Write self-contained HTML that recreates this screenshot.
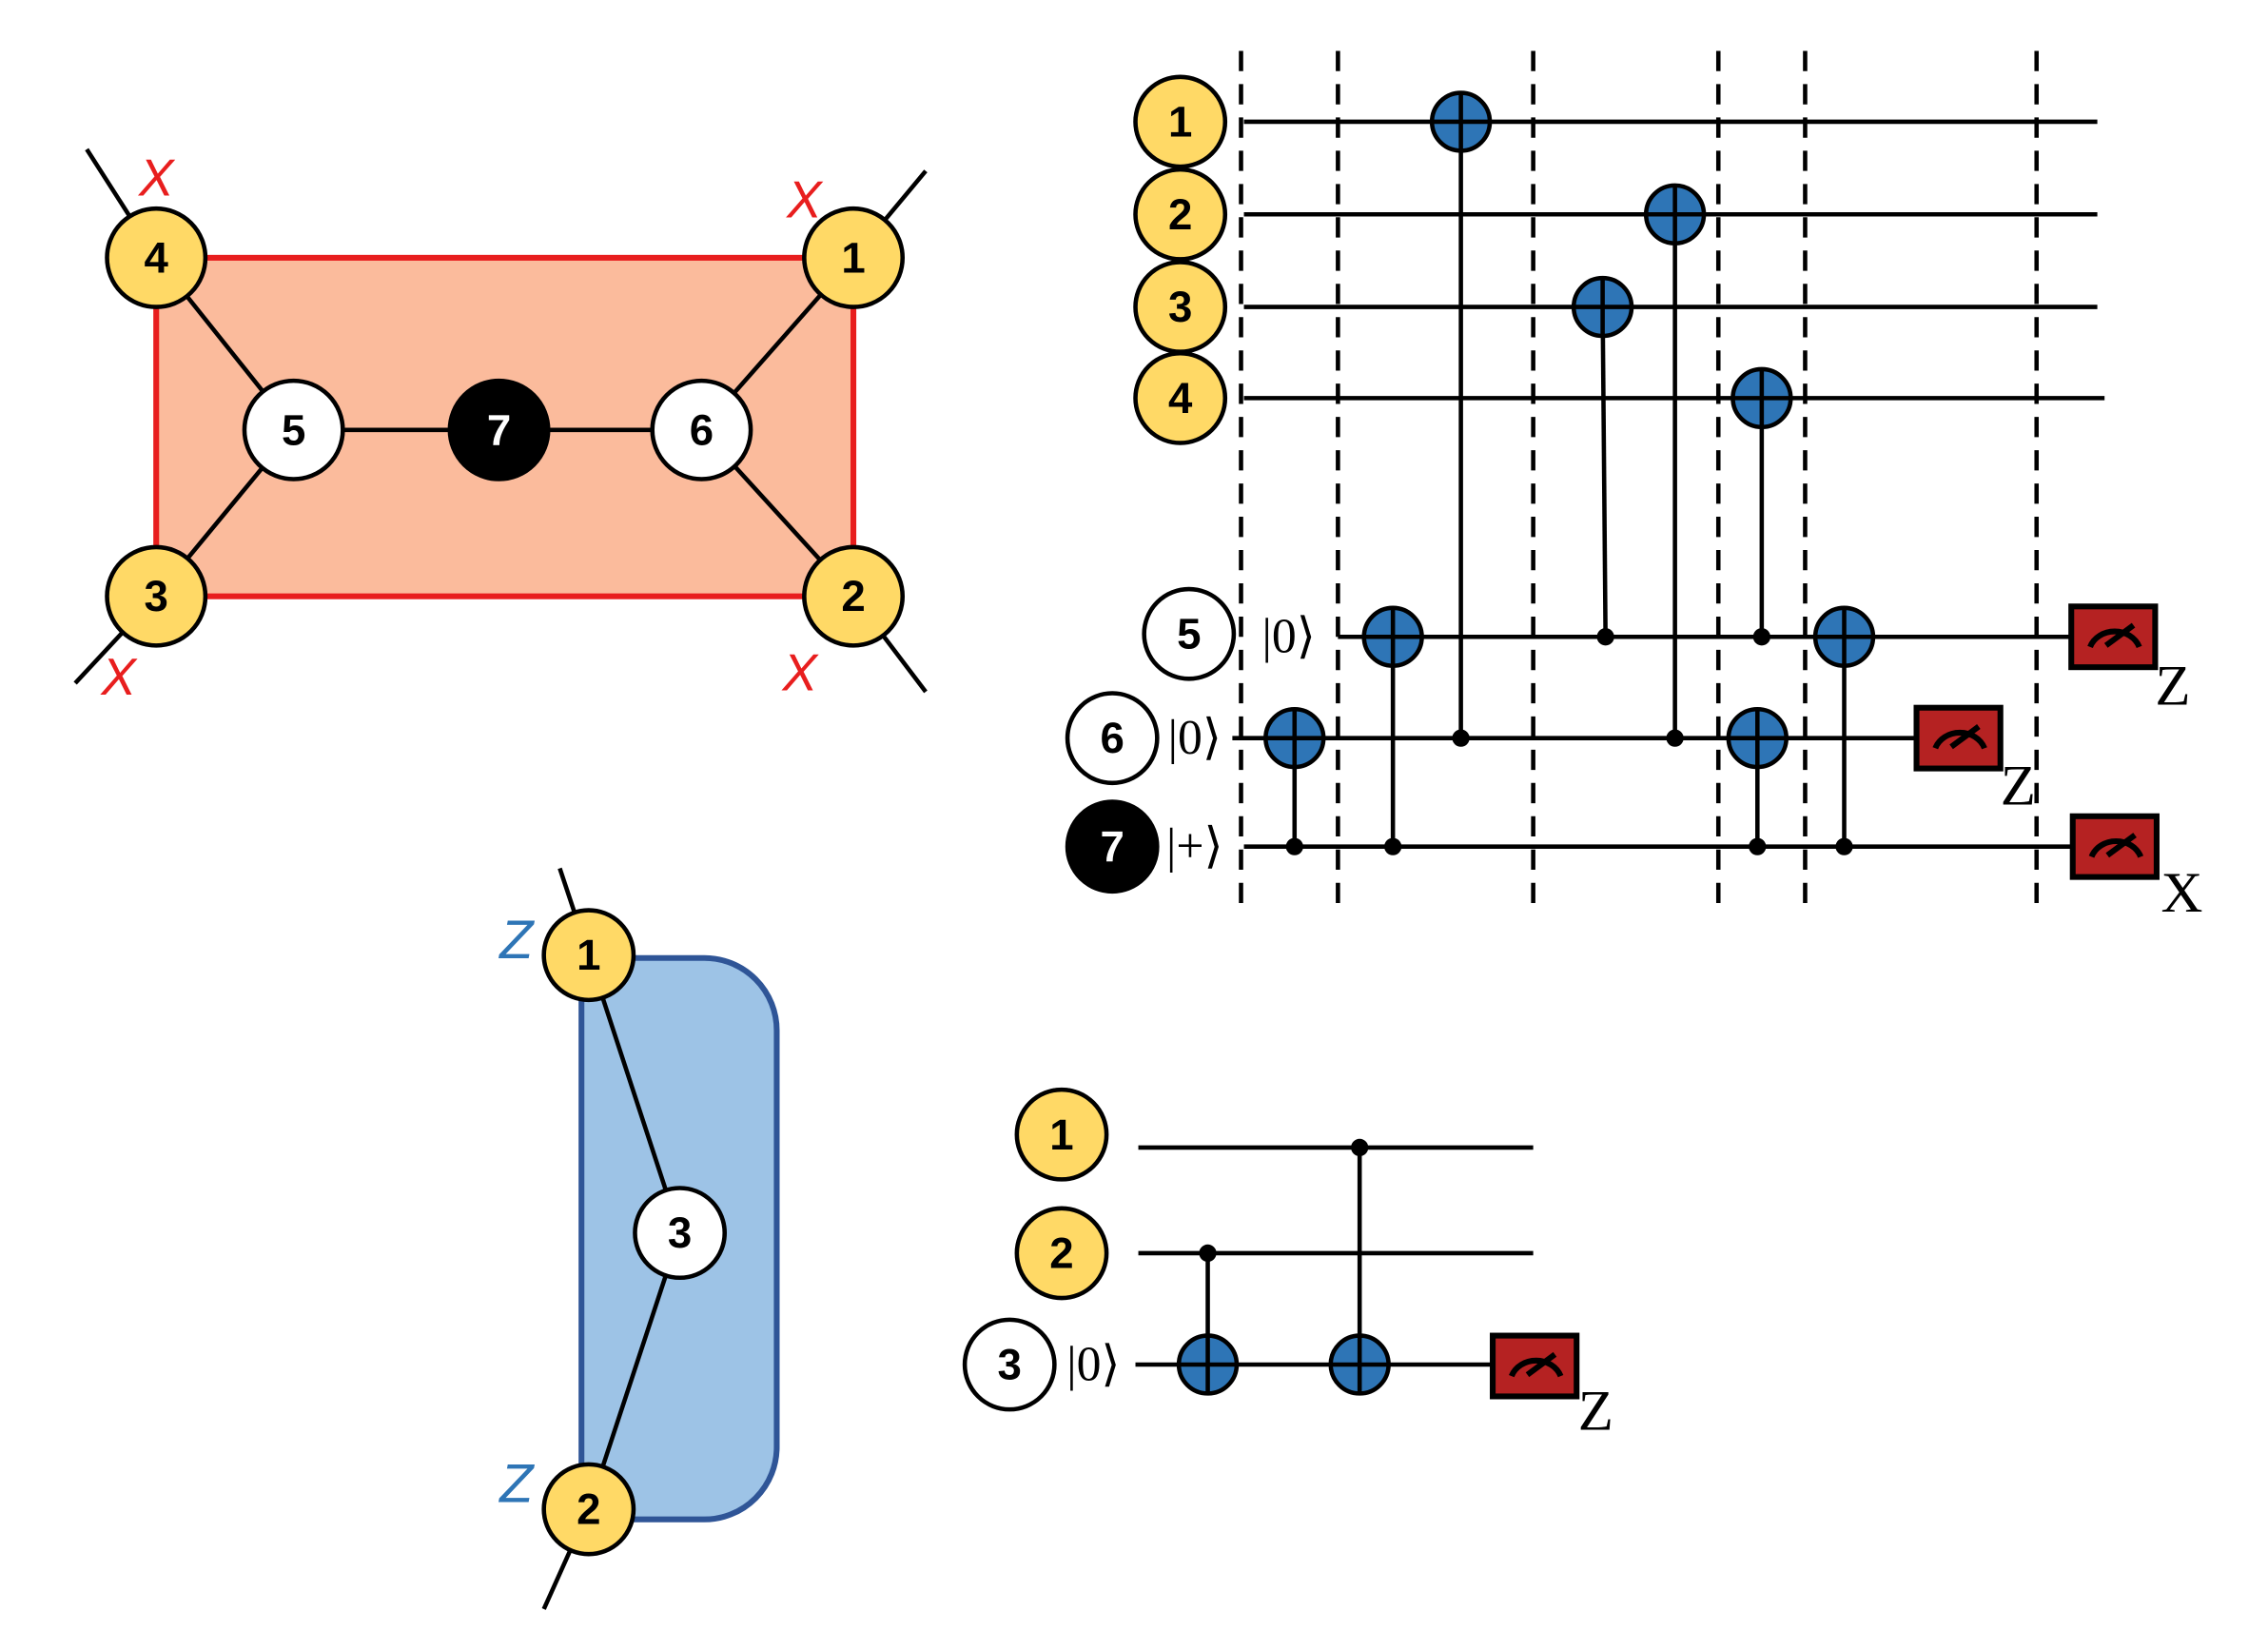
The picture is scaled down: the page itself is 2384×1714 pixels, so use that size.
<!DOCTYPE html>
<html><head><style>body{margin:0;background:#fff}svg{display:block}</style></head><body>
<svg width="2384" height="1714" viewBox="0 0 1568 1127" xmlns="http://www.w3.org/2000/svg">
<defs>
<g id="cn"><circle r="20" fill="#2E75B6" stroke="#000" stroke-width="3"/><line x1="-20" y1="0" x2="20" y2="0" stroke="#000" stroke-width="3"/><line x1="0" y1="-20" x2="0" y2="20" stroke="#000" stroke-width="3"/></g>
<g id="ms"><rect x="0" y="0" width="58" height="42" fill="#B52222" stroke="#000" stroke-width="4"/><path d="M13,28 A18,16 0 0 1 47,28" fill="none" stroke="#000" stroke-width="4"/><line x1="24" y1="27" x2="43" y2="13" stroke="#000" stroke-width="4"/></g>
</defs>
<style>
.n{font:bold 30px "Liberation Sans",sans-serif;text-anchor:middle;dominant-baseline:central}
.k{font:34px "Liberation Serif",serif;text-anchor:middle;dominant-baseline:central}
.l{stroke:#000;stroke-width:3;fill:none}
.y{fill:#FFD966;stroke:#000;stroke-width:3}
.w{fill:#fff;stroke:#000;stroke-width:3}
.b{fill:#000;stroke:#000;stroke-width:3}
</style>
<!-- top-left -->
<line class="l" x1="60" y1="103" x2="108" y2="178"/><line class="l" x1="640" y1="118" x2="590" y2="178"/>
<line class="l" x1="52" y1="472" x2="108" y2="412"/><line class="l" x1="640" y1="478" x2="590" y2="412"/>
<rect x="108" y="178" width="482" height="234" fill="#FBBB9C" stroke="#E81E1E" stroke-width="4"/>
<line class="l" x1="108" y1="178" x2="203" y2="297"/><line class="l" x1="108" y1="412" x2="203" y2="297"/>
<line class="l" x1="590" y1="178" x2="485" y2="297"/><line class="l" x1="590" y1="412" x2="485" y2="297"/>
<line class="l" x1="203" y1="297" x2="485" y2="297"/>
<circle class="y" cx="108" cy="178" r="34"/><text class="n" x="108" y="178">4</text>
<circle class="y" cx="590" cy="178" r="34"/><text class="n" x="590" y="178">1</text>
<circle class="y" cx="108" cy="412" r="34"/><text class="n" x="108" y="412">3</text>
<circle class="y" cx="590" cy="412" r="34"/><text class="n" x="590" y="412">2</text>
<circle class="w" cx="203" cy="297" r="34"/><text class="n" x="203" y="297">5</text>
<circle class="b" cx="345" cy="297" r="34"/><text class="n" x="345" y="297" fill="#fff">7</text>
<circle class="w" cx="485" cy="297" r="34"/><text class="n" x="485" y="297">6</text>
<g font-family="Liberation Sans,sans-serif" font-style="italic" font-size="36" fill="#E81E1E" text-anchor="middle">
<text x="108" y="135">X</text><text x="556" y="150">X</text><text x="82" y="480">X</text><text x="553" y="477">X</text></g>
<!-- top-right circuit -->
<g stroke="#000" stroke-width="3" stroke-dasharray="14,9">
<line x1="858" y1="35" x2="858" y2="630"/><line x1="925" y1="35" x2="925" y2="630"/><line x1="1060" y1="35" x2="1060" y2="630"/>
<line x1="1188" y1="35" x2="1188" y2="630"/><line x1="1248" y1="35" x2="1248" y2="630"/><line x1="1408" y1="35" x2="1408" y2="630"/></g>
<line class="l" x1="860" y1="84" x2="1450" y2="84"/><line class="l" x1="860" y1="148" x2="1450" y2="148"/>
<line class="l" x1="860" y1="212" x2="1450" y2="212"/><line class="l" x1="860" y1="275" x2="1455" y2="275"/>
<line class="l" x1="925" y1="440" x2="1432" y2="440"/><line class="l" x1="852" y1="510" x2="1325" y2="510"/>
<line class="l" x1="860" y1="585" x2="1433" y2="585"/>
<g class="l">
<line x1="1010" y1="84" x2="1010" y2="510"/><line x1="1158" y1="148" x2="1158" y2="510"/><line x1="1108" y1="212" x2="1110" y2="440"/>
<line x1="1218" y1="275" x2="1218" y2="440"/><line x1="963" y1="440" x2="963" y2="585"/><line x1="895" y1="510" x2="895" y2="585"/>
<line x1="1215" y1="510" x2="1215" y2="585"/><line x1="1275" y1="440" x2="1275" y2="585"/></g>
<g fill="#000"><circle cx="1010" cy="510" r="6"/><circle cx="1158" cy="510" r="6"/><circle cx="1110" cy="440" r="6"/><circle cx="1218" cy="440" r="6"/>
<circle cx="963" cy="585" r="6"/><circle cx="895" cy="585" r="6"/><circle cx="1215" cy="585" r="6"/><circle cx="1275" cy="585" r="6"/></g>
<use href="#cn" x="1010" y="84"/><use href="#cn" x="1158" y="148"/><use href="#cn" x="1108" y="212"/><use href="#cn" x="1218" y="275"/>
<use href="#cn" x="963" y="440"/><use href="#cn" x="895" y="510"/><use href="#cn" x="1215" y="510"/><use href="#cn" x="1275" y="440"/>
<use href="#ms" x="1432" y="419"/><use href="#ms" x="1325" y="489"/><use href="#ms" x="1433" y="564"/>
<g font-family="Liberation Serif,serif" font-size="40"><text x="1490" y="487">Z</text><text x="1383" y="556">Z</text><text x="1494" y="630">X</text></g>
<circle class="y" cx="816" cy="84" r="31"/><text class="n" x="816" y="84">1</text>
<circle class="y" cx="816" cy="148" r="31"/><text class="n" x="816" y="148">2</text>
<circle class="y" cx="816" cy="212" r="31"/><text class="n" x="816" y="212">3</text>
<circle class="y" cx="816" cy="275" r="31"/><text class="n" x="816" y="275">4</text>
<circle class="w" cx="822" cy="438" r="31"/><text class="n" x="822" y="438">5</text>
<circle class="w" cx="769" cy="510" r="31"/><text class="n" x="769" y="510">6</text>
<circle class="b" cx="769" cy="585" r="31"/><text class="n" x="769" y="585" fill="#fff">7</text>
<text class="k" x="891" y="440">|0⟩</text><text class="k" x="826" y="510">|0⟩</text><text class="k" x="826" y="585">|+⟩</text>
<!-- bottom-left -->
<line class="l" x1="387" y1="600" x2="407" y2="660"/><line class="l" x1="376" y1="1112" x2="407" y2="1043"/>
<path d="M402,662 H487 A50,50 0 0 1 537,712 V1000 A50,50 0 0 1 487,1050 H402 Z" fill="#9DC3E6" stroke="#2F5597" stroke-width="4"/>
<line class="l" x1="407" y1="660" x2="470" y2="852"/><line class="l" x1="470" y1="852" x2="407" y2="1043"/>
<circle class="y" cx="407" cy="660" r="31"/><text class="n" x="407" y="660">1</text>
<circle class="w" cx="470" cy="852" r="31"/><text class="n" x="470" y="852">3</text>
<circle class="y" cx="407" cy="1043" r="31"/><text class="n" x="407" y="1043">2</text>
<g font-family="Liberation Sans,sans-serif" font-style="italic" font-size="38" fill="#2E75B6" text-anchor="middle"><text x="357" y="662">Z</text><text x="357" y="1038">Z</text></g>
<!-- bottom circuit -->
<line class="l" x1="787" y1="793" x2="1060" y2="793"/><line class="l" x1="787" y1="866" x2="1060" y2="866"/>
<line class="l" x1="785" y1="943" x2="1032" y2="943"/>
<line class="l" x1="835" y1="866" x2="835" y2="943"/><line class="l" x1="940" y1="793" x2="940" y2="943"/>
<circle cx="835" cy="866" r="6"/><circle cx="940" cy="793" r="6"/>
<use href="#cn" x="835" y="943"/><use href="#cn" x="940" y="943"/>
<use href="#ms" x="1032" y="923"/>
<text x="1091" y="988" font-family="Liberation Serif,serif" font-size="40">Z</text>
<circle class="y" cx="734" cy="784" r="31"/><text class="n" x="734" y="784">1</text>
<circle class="y" cx="734" cy="866" r="31"/><text class="n" x="734" y="866">2</text>
<circle class="w" cx="698" cy="943" r="31"/><text class="n" x="698" y="943">3</text>
<text class="k" x="756" y="943">|0⟩</text>
</svg>
</body></html>
